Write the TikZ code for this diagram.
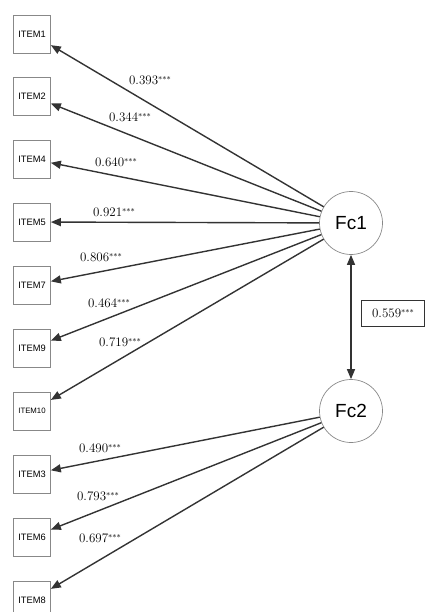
\documentclass[tikz,border=0pt]{standalone}
\usepackage{fontspec}
\setmainfont{Latin Modern Roman}
\newfontfamily\itemfont{Liberation Sans}
\usepackage{xcolor}
\usetikzlibrary{arrows.meta}

\definecolor{linegray}{HTML}{333333}
\definecolor{boxgray}{HTML}{888888}

\newcommand{\coefval}[1]{#1\raisebox{1.4pt}{\footnotesize***}}

\tikzset{
  item/.style = {draw=boxgray, line width=0.7pt, minimum width=37pt, minimum height=38pt,
                 inner sep=0pt, font=\itemfont\fontsize{9.3}{10}\selectfont},
  factor/.style = {draw=boxgray, line width=0.7pt, circle, minimum size=63pt, inner sep=0pt,
                   font=\itemfont\fontsize{19}{21}\selectfont},
  load/.style = {draw=linegray, line width=1.4pt, -{Triangle[length=10pt,width=8pt]}},
  coef/.style = {font=\fontsize{13}{15}\selectfont, inner sep=0pt}
}

\begin{document}
\begin{tikzpicture}[x=1pt, y=-1pt]
  \useasboundingbox (0,0) rectangle (426,612);

  % Factors
  \node[factor] (fc1) at (351,223) {Fc1};
  \node[factor] (fc2) at (351,411) {Fc2};

  % Items
  \node[item] (item1) at (32,34) {ITEM1};
  \node[item] (item2) at (32,96) {ITEM2};
  \node[item] (item4) at (32,159) {ITEM4};
  \node[item] (item5) at (32,222) {ITEM5};
  \node[item] (item7) at (32,285) {ITEM7};
  \node[item] (item9) at (32,348) {ITEM9};
  \node[item, font=\itemfont\fontsize{7.8}{9}\selectfont] (item10) at (32,411) {ITEM10};
  \node[item] (item3) at (32,474) {ITEM3};
  \node[item] (item6) at (32,537) {ITEM6};
  \node[item] (item8) at (32,600) {ITEM8};

  % Loadings of Fc1
  \draw[load] (fc1) -- (item1);
  \draw[load] (fc1) -- (item2);
  \draw[load] (fc1) -- (item4);
  \draw[load] (fc1) -- (item5);
  \draw[load] (fc1) -- (item7);
  \draw[load] (fc1) -- (item9);
  \draw[load] (fc1) -- (item10);

  % Loadings of Fc2
  \draw[load] (fc2) -- (item3);
  \draw[load] (fc2) -- (item6);
  \draw[load] (fc2) -- (item8);

  \node[coef] (c1) at (150,80) {\coefval{0.393}};
  \node[coef] (c2) at (130,117) {\coefval{0.344}};
  \node[coef] (c4) at (116,162) {\coefval{0.640}};
  \node[coef] (c5) at (114,212) {\coefval{0.921}};
  \node[coef] (c7) at (101,257) {\coefval{0.806}};
  \node[coef] (c9) at (109,303) {\coefval{0.464}};
  \node[coef] (c10) at (120,342) {\coefval{0.719}};
  \node[coef] (c3) at (100,448) {\coefval{0.490}};
  \node[coef] (c6) at (98,496) {\coefval{0.793}};
  \node[coef] (c8) at (100,538) {\coefval{0.697}};

  % Correlation
  \draw[draw=linegray, line width=1.4pt, {Triangle[length=10pt,width=8pt]}-{Triangle[length=10pt,width=8pt]}]
        (fc1) -- (fc2);
  \node[coef, draw=linegray, line width=0.7pt, minimum width=63pt, minimum height=26pt]
        (corr) at (393,313) {\coefval{0.559}};
\end{tikzpicture}
\end{document}
